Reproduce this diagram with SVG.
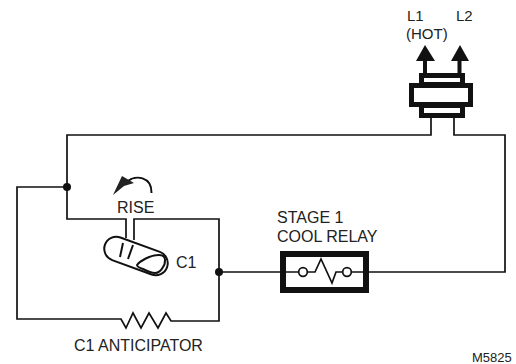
<svg xmlns="http://www.w3.org/2000/svg" width="516" height="364" viewBox="0 0 516 364">
<style>
text{font-family:"Liberation Sans",Arial,sans-serif;font-size:16px;fill:#222}
.w{fill:none;stroke:#111;stroke-width:1.7}
.b{fill:#fff;stroke:#111;stroke-width:5}
.t{fill:none;stroke:#111;stroke-width:2}
</style>
<rect width="516" height="364" fill="#fff"/>
<g id="connectors">
<path class="w" d="M431 117V135H67V219H126V238M134 240V219H219V321H171L166 313L158 328L149 313L141 328L133 313L126 328L121 319H17V187H67"/>
<path class="w" d="M454 117V135H505V272H368M219 272H283"/>
<circle cx="67" cy="187" r="4" fill="#111"/>
<circle cx="219" cy="272" r="4" fill="#111"/>
</g>
<g id="plug">
<path d="M425 45L435 61H427V75H423V61H416Z" fill="#111"/>
<path d="M460 45L469 61H461.500V75H457.500V61H451Z" fill="#111"/>
<rect class="b" x="421.500" y="75.500" width="41" height="9"/>
<rect class="b" x="421.500" y="105.500" width="41" height="10"/>
<rect class="b" x="411.500" y="85.500" width="59" height="19"/>
</g>
<g id="labels-hot"><text x="407" y="21" style="font-size:15px">L1</text><text x="456" y="21" style="font-size:15px">L2</text><text x="406" y="39" style="font-size:15px">(HOT)</text></g>
<g id="thermostat">
<rect class="t" x="103" y="244" width="66" height="24" rx="12" transform="rotate(20 136 256)"/>
<path class="t" d="M123 243L120 257M133 245L128 259"/>
<path class="t" d="M137 265C140 261 150 255 159 255C163 255 165 257 165 260C165 263 164 266 163 267C161 271 158 273 155 273C151 273 147 271 143 269C140 268 137 267 137 265Z"/>
<path class="t" d="M128 181C135 175 152 176 151.500 193"/>
<path d="M113 195L122 176L134 183L124 186Z" fill="#222"/>
<text x="117" y="213">RISE</text><text x="176" y="268">C1</text>
</g>
<g id="relay">
<rect class="b" x="283" y="254" width="83" height="36" style="stroke-width:6"/>
<path class="w" d="M280 272H299M308 272H315L321 259L332 283L336 272H342M352 272H369"/>
<circle class="w" cx="303" cy="272" r="4.300" fill="#fff"/><circle class="w" cx="347" cy="272" r="4.300" fill="#fff"/>
<text x="277" y="223">STAGE 1</text><text x="277" y="242">COOL RELAY</text>
</g>
<g id="labels"><text x="74" y="351">C1 ANTICIPATOR</text><text x="472" y="362" style="font-size:13px">M5825</text></g>
</svg>
